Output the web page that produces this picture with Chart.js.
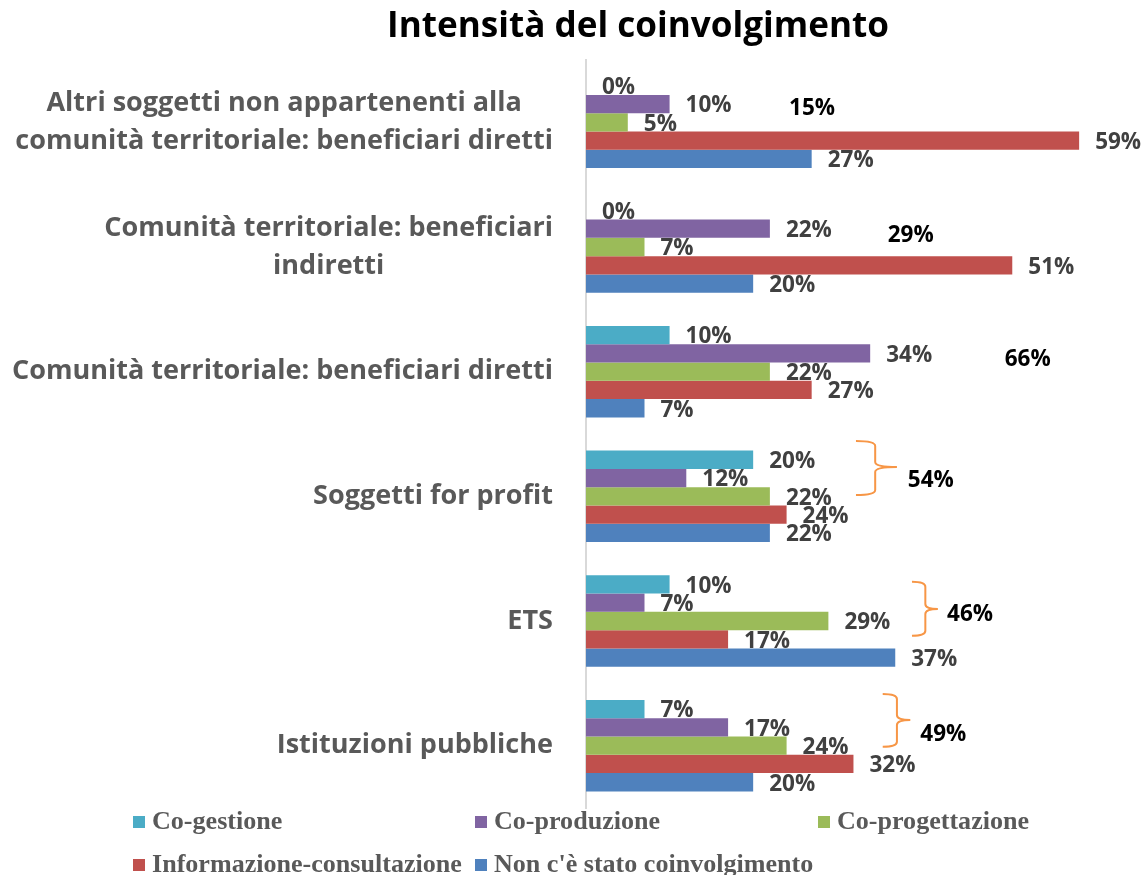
<!DOCTYPE html>
<html lang="it">
<head>
<meta charset="utf-8">
<title>Intensità del coinvolgimento</title>
<script src="https://cdn.jsdelivr.net/npm/chart.js@4.4.1/dist/chart.umd.min.js"></script>
<style>
  html, body { margin: 0; padding: 0; background: #fff; }
  #wrap { width: 1146px; height: 875px; }
</style>
</head>
<body>
<div id="wrap"><canvas id="grafico"></canvas></div>
<script>
// dati (percentuali)
const categorie = [
    ['Altri soggetti non appartenenti alla', 'comunità territoriale: beneficiari diretti'],
    ['Comunità territoriale: beneficiari', 'indiretti'],
    ['Comunità territoriale: beneficiari diretti'],
    ['Soggetti for profit'],
    ['ETS'],
    ['Istituzioni pubbliche']
];
const nomiSerie = ['Co-gestione', 'Co-produzione', 'Co-progettazione', 'Informazione-consultazione', "Non c'è stato coinvolgimento"];
const coGestione      = [0, 0, 10, 20, 10, 7];
const coProduzione    = [10, 22, 34, 12, 7, 17];
const coProgettazione = [5, 7, 22, 22, 29, 24];
const informazione    = [59, 51, 27, 24, 17, 32];
const nonCoinvolto    = [27, 20, 7, 22, 37, 20];
const totali          = [15, 29, 66, 54, 46, 49];

const colori = ['#4BACC6', '#8064A2', '#9BBB59', '#C0504D', '#4F81BD'];

// posizione delle caselle di testo dei totali (x in %, dy in categorie)
const posTotali = [
    { x: 24.3, dy: -0.11 }, { x: 36.1, dy: -0.09 }, { x: 50.1, dy: -0.10 },
    { x: 38.5, dy: -0.13 }, { x: 43.2, dy: -0.05 }, { x: 40.0, dy: -0.09 }
];
// parentesi graffe arancioni
const graffe = [
    { cat: 3, x0: 32.3, xm: 34.6, x1: 37.2, top: -0.443, bottom: -0.010, punta: -0.235 },
    { cat: 4, x0: 39.0, xm: 40.6, x1: 42.1, top: -0.315, bottom: 0.118, punta: -0.096 },
    { cat: 5, x0: 35.5, xm: 37.2, x1: 38.8, top: -0.415, bottom: 0.008, punta: -0.206 }
];

function taglia(testo, larghezza, peso, famiglia) {
    const c = document.createElement('canvas').getContext('2d');
    c.font = peso + ' 100px ' + famiglia;
    return 100 * larghezza / c.measureText(testo).width;
}

const fTitolo = taglia('Intensità del coinvolgimento', 502, 'bold', '"Open Sans"');
const fAsse = taglia('comunità territoriale: beneficiari diretti', 538, 'bold', '"Open Sans"');
const fEtichette = taglia('59%', 46, 'bold', '"Open Sans"');
const fLegenda = taglia('Informazione-consultazione', 310, 'bold', '"Liberation Serif"');

const pluginTesti = {
    id: 'testi',
    afterDraw(chart) {
        const ctx = chart.ctx;
        const x = chart.scales.x;
        const y = chart.scales.y;
        const passo = y.getPixelForValue(1) - y.getPixelForValue(0);
        ctx.save();

        // titolo
        ctx.font = 'bold ' + fTitolo + 'px "Open Sans"';
        ctx.fillStyle = '#000';
        ctx.textAlign = 'center';
        ctx.textBaseline = 'alphabetic';
        ctx.fillText('Intensità del coinvolgimento', 638, 37);

        // etichette categorie (righe centrate fra loro, blocco allineato a destra)
        ctx.font = 'bold ' + fAsse + 'px "Open Sans"';
        ctx.fillStyle = '#595959';
        ctx.textBaseline = 'middle';
        categorie.forEach((righe, i) => {
            const cy = y.getPixelForValue(i);
            const w = Math.max(...righe.map(r => ctx.measureText(r).width));
            const cx = 553 - w / 2;
            righe.forEach((r, k) => {
                ctx.fillText(r, cx, cy + (k - (righe.length - 1) / 2) * 38);
            });
        });

        // etichette dati
        ctx.font = 'bold ' + fEtichette + 'px "Open Sans"';
        ctx.fillStyle = '#404040';
        ctx.textAlign = 'left';
        chart.data.datasets.forEach((ds, d) => {
            chart.getDatasetMeta(d).data.forEach((el, i) => {
                ctx.fillText(ds.data[i] + '%', el.x + 16, el.y + 2);
            });
        });

        // totali
        ctx.fillStyle = '#000';
        totali.forEach((t, i) => {
            const p = posTotali[i];
            ctx.fillText(t + '%', x.getPixelForValue(p.x), y.getPixelForValue(i) + p.dy * passo);
        });

        // graffe
        ctx.strokeStyle = '#F79646';
        ctx.lineWidth = 2;
        graffe.forEach(g => {
            const cy = y.getPixelForValue(g.cat);
            const x0 = x.getPixelForValue(g.x0), xm = x.getPixelForValue(g.xm), x1 = x.getPixelForValue(g.x1);
            const t = cy + g.top * passo, b = cy + g.bottom * passo, p = cy + g.punta * passo;
            const r = 5;
            ctx.beginPath();
            ctx.moveTo(x0, t);
            ctx.quadraticCurveTo(xm, t, xm, t + r);
            ctx.lineTo(xm, p - r);
            ctx.quadraticCurveTo(xm, p, x1, p);
            ctx.moveTo(x1, p);
            ctx.quadraticCurveTo(xm, p, xm, p + r);
            ctx.lineTo(xm, b - r);
            ctx.quadraticCurveTo(xm, b, x0, b);
            ctx.stroke();
        });

        // legenda a griglia
        ctx.font = 'bold ' + fLegenda + 'px "Liberation Serif"';
        ctx.fillStyle = '#595959';
        ctx.textBaseline = 'alphabetic';
        const colX = [133, 475, 818];
        const rigaY = [828, 871];
        chart.data.datasets.forEach((ds, d) => {
            const lx = colX[d % 3];
            const ly = rigaY[Math.floor(d / 3)];
            ctx.fillStyle = ds.backgroundColor;
            ctx.fillRect(lx, ly - 12, 12, 12);
            ctx.fillStyle = '#595959';
            ctx.fillText(ds.label, lx + 19, ly + 1);
        });
        ctx.restore();
    }
};

const serie = [coGestione, coProduzione, coProgettazione, informazione, nonCoinvolto];

new Chart(document.getElementById('grafico'), {
    type: 'bar',
    data: {
        labels: categorie,
        datasets: serie.map((valori, i) => ({
            label: nomiSerie[i],
            data: valori,
            backgroundColor: colori[i],
            borderWidth: 0,
            categoryPercentage: 0.734,
            barPercentage: 1.0
        }))
    },
    options: {
        indexAxis: 'y',
        responsive: true,
        maintainAspectRatio: false,
        animation: false,
        layout: { padding: { top: 60, bottom: 67, left: 0, right: 0 } },
        plugins: {
            legend: { display: false },
            title: { display: false },
            tooltip: { enabled: false }
        },
        scales: {
            x: { display: false, min: 0, max: 67 },
            y: {
                grid: { display: false, drawTicks: false },
                border: { display: true, color: '#d9d9d9', width: 2 },
                ticks: { display: false },
                afterFit(scale) { scale.width = 586; }
            }
        }
    },
    plugins: [pluginTesti]
});
</script>
</body>
</html>
